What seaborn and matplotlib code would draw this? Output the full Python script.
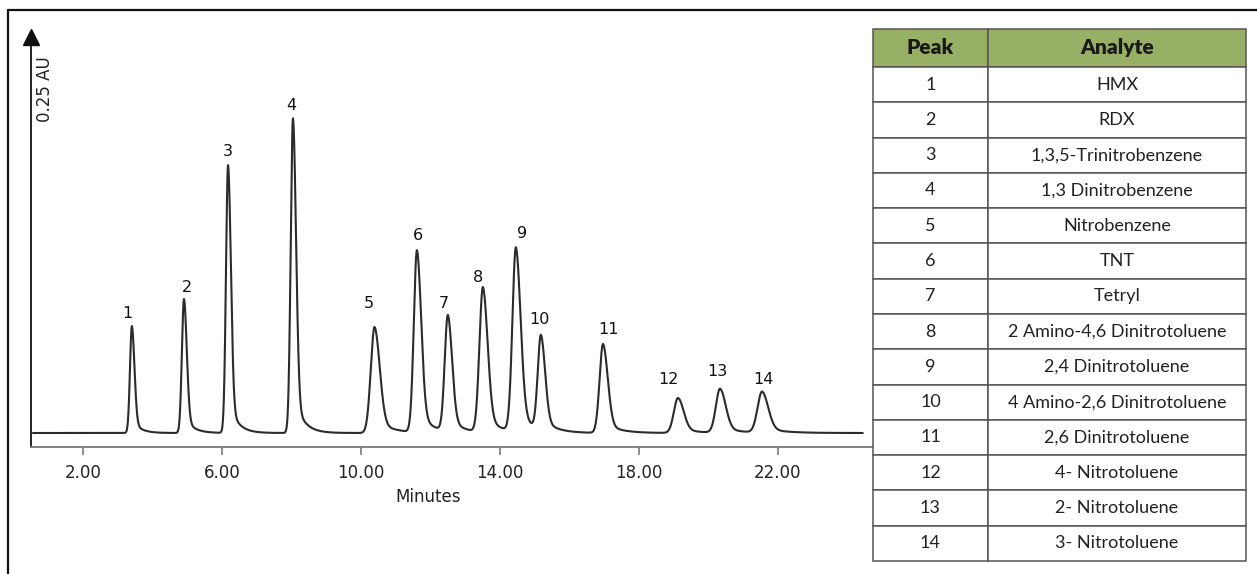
import numpy as np
import pandas as pd
import seaborn as sns
import matplotlib.pyplot as plt
from matplotlib.lines import Line2D

# peak data (retention time in min, height in AU)
peak_ids = [1, 2, 3, 4, 5, 6, 7, 8, 9, 10, 11, 12, 13, 14]
peak_times = [3.40, 4.90, 6.17, 8.04, 10.39, 11.61, 12.50, 13.51, 14.46, 15.18, 16.97, 19.13, 20.34, 21.55]
peak_heights = [0.107, 0.134, 0.268, 0.315, 0.106, 0.182, 0.116, 0.145, 0.184, 0.094, 0.089, 0.035, 0.044, 0.041]
peak_sigmas = [0.055, 0.06, 0.06, 0.065, 0.11, 0.09, 0.09, 0.10, 0.10, 0.09, 0.10, 0.12, 0.12, 0.13]

tick_values = [2, 6, 10, 14, 18, 22]
tick_labels = ["2.00", "6.00", "10.00", "14.00", "18.00", "22.00"]

analytes = ["HMX", "RDX", "1,3,5-Trinitrobenzene", "1,3 Dinitrobenzene", "Nitrobenzene",
            "TNT", "Tetryl", "2 Amino-4,6 Dinitrotoluene", "2,4 Dinitrotoluene",
            "4 Amino-2,6 Dinitrotoluene", "2,6 Dinitrotoluene", "4- Nitrotoluene",
            "2- Nitrotoluene", "3- Nitrotoluene"]

# label offsets from apex, pixels
label_dx = [-5, 3, 0, -2, -6, 1, -4, -5, 6, -1, 5, -10, -3, 1]
label_dy = [13, 12, 13, 13, 24, 16, 14, 11, 15, 19, 14, 18, 17, 12]


def peak_shape(t, t0, h, s, tail=1.35, frac=0.13):
    dt = t - t0
    left = np.exp(-0.5 * (dt / s) ** 2)
    right = (1 - frac) * np.exp(-0.5 * (dt / (tail * s)) ** 2) + frac * np.exp(-np.clip(dt, 0, None) / (4 * s))
    return h * np.where(dt < 0, left, right)


t = np.linspace(0.55, 24.45, 5000)
signal = np.zeros_like(t)
for t0, h, s in zip(peak_times, peak_heights, peak_sigmas):
    signal += peak_shape(t, t0, h, s)
trace = pd.DataFrame({"Minutes": t, "AU": signal})

sns.set_theme(style="white")
plt.rcParams["font.family"] = ["DejaVu Sans"]

W, H = 1257, 574
fig = plt.figure(figsize=(W / 100, H / 100), dpi=100)

# chromatogram axes in pixel layout
x0, x1, y_axis, y_top = 31, 873, 447, 37
ax = fig.add_axes([x0 / W, 1 - y_axis / H, (x1 - x0) / W, (y_axis - y_top) / H])
sns.lineplot(data=trace, x="Minutes", y="AU", ax=ax, color="#2b2b2b", linewidth=1.5)
ax.set_xlim(0.494, 24.745)
ax.set_ylim(-0.014, 0.396)

for side in ["top", "right"]:
    ax.spines[side].set_visible(False)
ax.spines["bottom"].set_color("#7a7a7a")
ax.spines["bottom"].set_linewidth(1.3)
ax.spines["left"].set_color("#111111")
ax.spines["left"].set_linewidth(1.3)
ax.plot([0], [1], marker="^", markersize=11, color="#111111", transform=ax.transAxes, clip_on=False)

ax.set_xticks(tick_values)
ax.set_xticklabels(tick_labels, fontsize=12, color="#222222")
ax.set_yticks([])
ax.tick_params(axis="x", direction="out", length=6, width=1.2, color="#7a7a7a", pad=6, bottom=True)
ax.set_xlabel("Minutes", fontsize=12, color="#222222")
ax.xaxis.set_label_coords((428 - x0) / (x1 - x0), -0.1)
ax.set_ylabel("")
ax.text((45 - x0) / (x1 - x0), (y_axis - 89) / (y_axis - y_top), "0.25 AU", rotation=90,
        ha="center", va="center", fontsize=12, color="#222222", transform=ax.transAxes)

for pid, t0, h, dx, dy in zip(peak_ids, peak_times, peak_heights, label_dx, label_dy):
    ax.annotate(str(pid), xy=(t0, h), xytext=(dx, dy), textcoords="offset pixels",
                ha="center", va="center", fontsize=11.5, color="#111111")

# outer frame (top and left edges only)
fig.add_artist(Line2D([8 / W, 1], [1 - 10 / H, 1 - 10 / H], color="#111111", linewidth=1.6))
fig.add_artist(Line2D([8 / W, 8 / W], [0, 1 - 10 / H], color="#111111", linewidth=1.6))

# peak table
tx0, tx1, ty0, ty1 = 873, 1246, 29, 561
ax_t = fig.add_axes([tx0 / W, 1 - ty1 / H, (tx1 - tx0) / W, (ty1 - ty0) / H])
ax_t.axis("off")
rows = [[str(p), a] for p, a in zip(peak_ids, analytes)]
tab = ax_t.table(cellText=rows, colLabels=["Peak", "Analyte"], colWidths=[0.308, 0.692],
                 cellLoc="center", bbox=[0, 0, 1, 1])
tab.auto_set_font_size(False)
for (r, c), cell in tab.get_celld().items():
    cell.set_edgecolor("#555555")
    cell.set_linewidth(1.1)
    txt = cell.get_text()
    txt.set_fontfamily("Lato")
    if r == 0:
        cell.set_facecolor("#98b066")
        cell.set_height(38)
        txt.set_fontsize(15)
        txt.set_fontweight("heavy")
        txt.set_color("#1a1a1a")
    else:
        cell.set_height(35.3)
        txt.set_fontsize(13)
        txt.set_color("#222222")

fig.savefig("out.png", dpi=100)
